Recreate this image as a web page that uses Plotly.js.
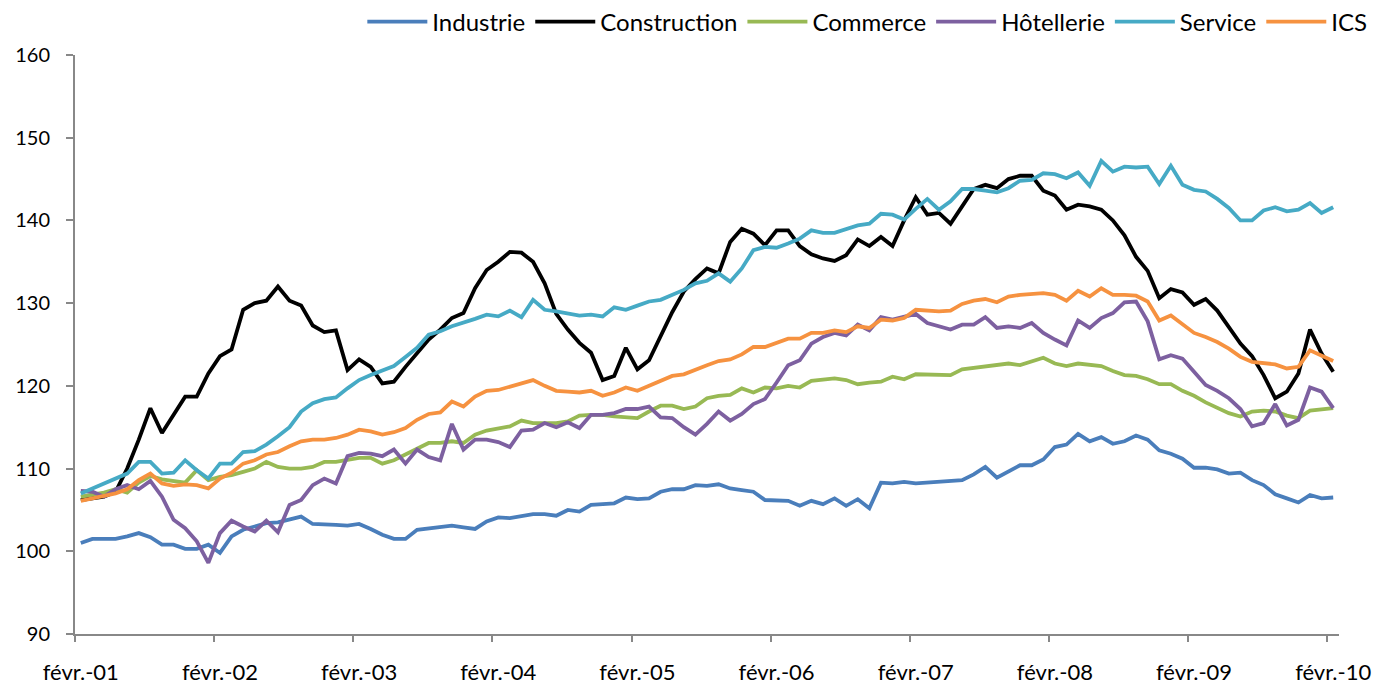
<!DOCTYPE html>
<html>
<head>
<meta charset="utf-8">
<script src="https://cdn.plot.ly/plotly-3.0.1.min.js"></script>
<style>
  html, body { margin: 0; padding: 0; background: #fff; }
  #chart { width: 1389px; height: 689px; }
</style>
</head>
<body>
<div id="chart"></div>
<script>
// months from févr.-01 to févr.-10
const monthNames = ['févr.', 'mars', 'avr.', 'mai', 'juin', 'juil.', 'août', 'sept.', 'oct.', 'nov.', 'déc.', 'janv.'];
const years = ['01', '02', '03', '04', '05', '06', '07', '08', '09', '10'];
const seriesNames = ['Industrie', 'Construction', 'Commerce', 'Hôtellerie', 'Service', 'ICS'];
const seriesColors = ['#4a7ebb', '#000000', '#98b954', '#7d60a0', '#46aac5', '#f69240'];

const industrie = [
  101.0, 101.5, 101.5, 101.5, 101.8, 102.2, 101.7, 100.8, 100.8, 100.3, 100.3, 100.8,
  99.8, 101.8, 102.6, 103.0, 103.4, 103.5, 103.8, 104.2, 103.3, 103.3, 103.2, 103.1,
  103.3, 102.7, 102.0, 101.5, 101.5, 102.6, 102.8, 102.9, 103.1, 102.9, 102.7, 103.6,
  104.1, 104.0, 104.2, 104.5, 104.5, 104.3, 105.0, 104.8, 105.6, 105.7, 105.8, 106.5,
  106.3, 106.4, 107.2, 107.5, 107.5, 108.0, 107.9, 108.1, 107.6, 107.4, 107.2, 106.2,
  106.2, 106.1, 105.5, 106.1, 105.7, 106.4, 105.5, 106.3, 105.2, 108.3, 108.2, 108.4,
  108.2, 108.3, 108.5, 108.5, 108.6, 109.3, 110.2, 108.9, 109.6, 110.4, 110.4, 111.1,
  112.6, 112.9, 114.2, 113.3, 113.8, 113.0, 113.3, 114.0, 113.5, 112.2, 111.8, 111.2,
  110.1, 110.1, 109.9, 109.4, 109.5, 108.6, 108.0, 106.9, 106.4, 105.9, 106.8, 106.4,
  106.5
];
const construction = [
  106.2, 106.4, 106.6, 107.2, 110.0, 113.5, 117.3, 114.3, 116.5, 118.7, 118.7, 121.5,
  123.6, 124.4, 129.2, 130.0, 130.3, 132.0, 130.3, 129.7, 127.3, 126.5, 126.7, 121.9,
  123.2, 122.3, 120.3, 120.5, 122.3, 124.0, 125.6, 126.8, 128.2, 128.8, 131.8, 134.0,
  135.0, 136.2, 136.1, 135.0, 132.4, 128.7, 126.8, 125.2, 124.0, 120.7, 121.2, 124.6,
  122.0, 123.1, 126.1, 128.9, 131.4, 132.9, 134.2, 133.6, 137.4, 139.0, 138.4, 137.0,
  138.8, 138.8, 136.9, 135.9, 135.4, 135.1, 135.8, 137.7, 136.9, 138.0, 136.9, 140.0,
  142.8, 140.7, 140.9, 139.6, 141.7, 143.8, 144.3, 143.9, 145.0, 145.4, 145.4, 143.6,
  143.0, 141.3, 141.9, 141.7, 141.3, 140.0, 138.2, 135.6, 133.9, 130.6, 131.7, 131.3,
  129.8, 130.5, 129.1, 127.0, 125.1, 123.6, 121.3, 118.5, 119.3, 121.5, 126.8, 123.9,
  121.7
];
const commerce = [
  106.6, 106.8, 107.1, 107.5, 107.1, 108.3, 109.1, 108.7, 108.5, 108.3, 109.8, 108.6,
  109.0, 109.2, 109.6, 110.0, 110.8, 110.2, 110.0, 110.0, 110.2, 110.8, 110.8, 111.0,
  111.3, 111.3, 110.6, 111.0, 111.7, 112.5, 113.1, 113.1, 113.3, 113.1, 114.1, 114.6,
  114.8, 115.1, 115.8, 115.5, 115.5, 115.5, 115.7, 116.4, 116.5, 116.5, 116.3, 116.2,
  116.1, 116.9, 117.6, 117.6, 117.2, 117.5, 118.5, 118.8, 118.9, 119.7, 119.2, 119.8,
  119.7, 120.0, 119.8, 120.6, 120.7, 120.9, 120.7, 120.2, 120.4, 120.5, 121.1, 120.8,
  121.4, 121.4, 121.3, 121.3, 122.0, 122.2, 122.3, 122.6, 122.7, 122.5, 123.0, 123.4,
  122.7, 122.4, 122.7, 122.5, 122.4, 121.8, 121.3, 121.2, 120.8, 120.2, 120.2, 119.4,
  118.8, 118.0, 117.3, 116.7, 116.3, 116.9, 117.0, 116.9, 116.4, 116.1, 117.0, 117.2,
  117.3
];
const hotellerie = [
  107.3, 107.2, 106.6, 107.5, 108.0, 107.5, 108.5, 106.6, 103.8, 102.8, 101.2, 98.6,
  102.2, 103.7, 103.0, 102.4, 103.7, 102.3, 105.6, 106.2, 108.0, 108.8, 108.2, 111.5,
  111.9, 111.8, 111.5, 112.3, 110.6, 112.3, 111.4, 111.0, 115.4, 112.3, 113.5, 113.5,
  113.2, 112.6, 114.6, 114.7, 115.5, 115.0, 115.6, 114.9, 116.5, 116.5, 116.7, 117.2,
  117.2, 117.5, 116.2, 116.1, 115.0, 114.1, 115.4, 116.9, 115.8, 116.6, 117.8, 118.4,
  120.4, 122.5, 123.1, 125.1, 125.9, 126.4, 126.1, 127.4, 126.7, 128.3, 128.0, 128.4,
  128.7, 127.6, 127.2, 126.8, 127.4, 127.4, 128.3, 127.0, 127.2, 127.0, 127.6, 126.4,
  125.6, 124.9, 127.9, 127.0, 128.2, 128.8, 130.1, 130.2, 127.8, 123.2, 123.7, 123.3,
  121.7, 120.1, 119.4, 118.5, 117.2, 115.1, 115.5, 117.8, 115.2, 115.9, 119.8, 119.3,
  117.3
];
const service = [
  107.0, 107.6, 108.2, 108.8, 109.4, 110.8, 110.8, 109.4, 109.5, 111.0, 109.8, 108.8,
  110.6, 110.6, 112.0, 112.1, 112.9, 113.9, 115.0, 116.9, 117.9, 118.4, 118.6, 119.7,
  120.7, 121.3, 121.9, 122.4, 123.5, 124.6, 126.2, 126.6, 127.2, 127.6, 128.1, 128.6,
  128.4, 129.1, 128.3, 130.4, 129.2, 129.0, 128.8, 128.5, 128.6, 128.4, 129.5, 129.2,
  129.7, 130.2, 130.4, 131.0, 131.6, 132.4, 132.7, 133.6, 132.6, 134.2, 136.4, 136.8,
  136.7, 137.2, 137.8, 138.8, 138.5, 138.5, 138.9, 139.4, 139.6, 140.8, 140.7, 140.1,
  141.4, 142.6, 141.3, 142.3, 143.8, 143.8, 143.6, 143.4, 143.9, 144.8, 144.9, 145.7,
  145.6, 145.1, 145.8, 144.2, 147.2, 145.9, 146.5, 146.4, 146.5, 144.4, 146.6, 144.3,
  143.7, 143.5, 142.6, 141.5, 140.0, 140.0, 141.2, 141.6, 141.1, 141.3, 142.1, 140.9,
  141.6
];
const ics = [
  106.1, 106.4, 106.6, 107.0, 107.5, 108.6, 109.4, 108.2, 107.9, 108.1, 108.0, 107.6,
  108.8, 109.5, 110.6, 111.0, 111.7, 112.0, 112.7, 113.3, 113.5, 113.5, 113.7, 114.1,
  114.7, 114.5, 114.1, 114.4, 114.9, 115.9, 116.6, 116.8, 118.1, 117.5, 118.7, 119.4,
  119.5, 119.9, 120.3, 120.7, 120.0, 119.4, 119.3, 119.2, 119.4, 118.8, 119.2, 119.8,
  119.4, 120.0, 120.7, 121.2, 121.4, 122.0, 122.5, 123.0, 123.2, 123.8, 124.7, 124.7,
  125.2, 125.7, 125.7, 126.4, 126.4, 126.7, 126.5, 127.2, 127.0, 128.0, 127.9, 128.2,
  129.2, 129.1, 129.0, 129.1, 129.9, 130.3, 130.5, 130.1, 130.8, 131.0, 131.1, 131.2,
  131.0, 130.3, 131.5, 130.8, 131.8, 131.0, 131.0, 130.9, 130.2, 127.9, 128.5, 127.5,
  126.4, 125.9, 125.3, 124.5, 123.5, 122.9, 122.7, 122.6, 122.1, 122.3, 124.3, 123.6,
  123.0
];

const allSeries = [industrie, construction, commerce, hotellerie, service, ics];

// month labels, one per point
const labels = [];
years.forEach((yy, k) => {
  monthNames.forEach((m, j) => {
    if (labels.length >= industrie.length) return;
    const y = j === 11 ? years[k + 1] : yy;
    labels.push(m + '-' + y);
  });
});
const idx = labels.map((_, i) => i);
const febIdx = idx.filter(i => labels[i].startsWith('févr.'));

const font = 'Lato, "Open Sans", sans-serif';

const traces = allSeries.map((vals, s) => ({
  x: idx,
  y: vals,
  text: labels,
  type: 'scatter',
  mode: 'lines',
  name: seriesNames[s],
  line: { color: seriesColors[s], width: 3.8 },
  hovertemplate: '%{text}: %{y}<extra>' + seriesNames[s] + '</extra>'
}));

// invisible trace to carry the tick marks on category boundaries
traces.push({
  x: [idx[0], idx[idx.length - 1]],
  y: [null, null],
  xaxis: 'x2',
  type: 'scatter',
  mode: 'lines',
  showlegend: false,
  hoverinfo: 'skip'
});

const layout = {
  width: 1389,
  height: 689,
  margin: { l: 75, r: 50, t: 55, b: 55 },
  paper_bgcolor: '#fff',
  plot_bgcolor: '#fff',
  font: { family: font, size: 20, color: '#000' },
  showlegend: true,
  legend: {
    orientation: 'h',
    xref: 'container',
    yref: 'container',
    x: 0.988,
    xanchor: 'right',
    y: 0.968,
    yanchor: 'middle',
    font: { family: font, size: 24, color: '#000' },
    itemwidth: 60,
    tracegroupgap: 0,
    bgcolor: 'rgba(0,0,0,0)'
  },
  xaxis: {
    range: [-0.5, labels.length - 0.5],
    tickmode: 'array',
    tickvals: febIdx,
    ticktext: febIdx.map(i => labels[i]),
    ticks: '',
    showgrid: false,
    zeroline: false,
    showline: true,
    linecolor: '#888',
    linewidth: 2,
    ticklabelstandoff: 18,
    tickfont: { family: font, size: 22, color: '#000' }
  },
  xaxis2: {
    overlaying: 'x',
    anchor: 'y',
    side: 'bottom',
    range: [-0.5, labels.length - 0.5],
    tickmode: 'array',
    tickvals: febIdx.map(i => i - 0.5),
    ticks: 'outside',
    ticklen: 7,
    tickwidth: 2,
    tickcolor: '#888',
    showticklabels: false,
    showgrid: false,
    zeroline: false,
    showline: false
  },
  yaxis: {
    range: [90, 160],
    dtick: 10,
    ticks: 'outside',
    ticklen: 7,
    tickwidth: 2,
    tickcolor: '#888',
    showgrid: false,
    zeroline: false,
    showline: true,
    linecolor: '#888',
    linewidth: 2,
    ticklabelstandoff: 12,
    tickfont: { family: font, size: 20, color: '#000' }
  }
};

Plotly.newPlot('chart', traces, layout, { displayModeBar: false, responsive: false });
</script>
</body>
</html>
